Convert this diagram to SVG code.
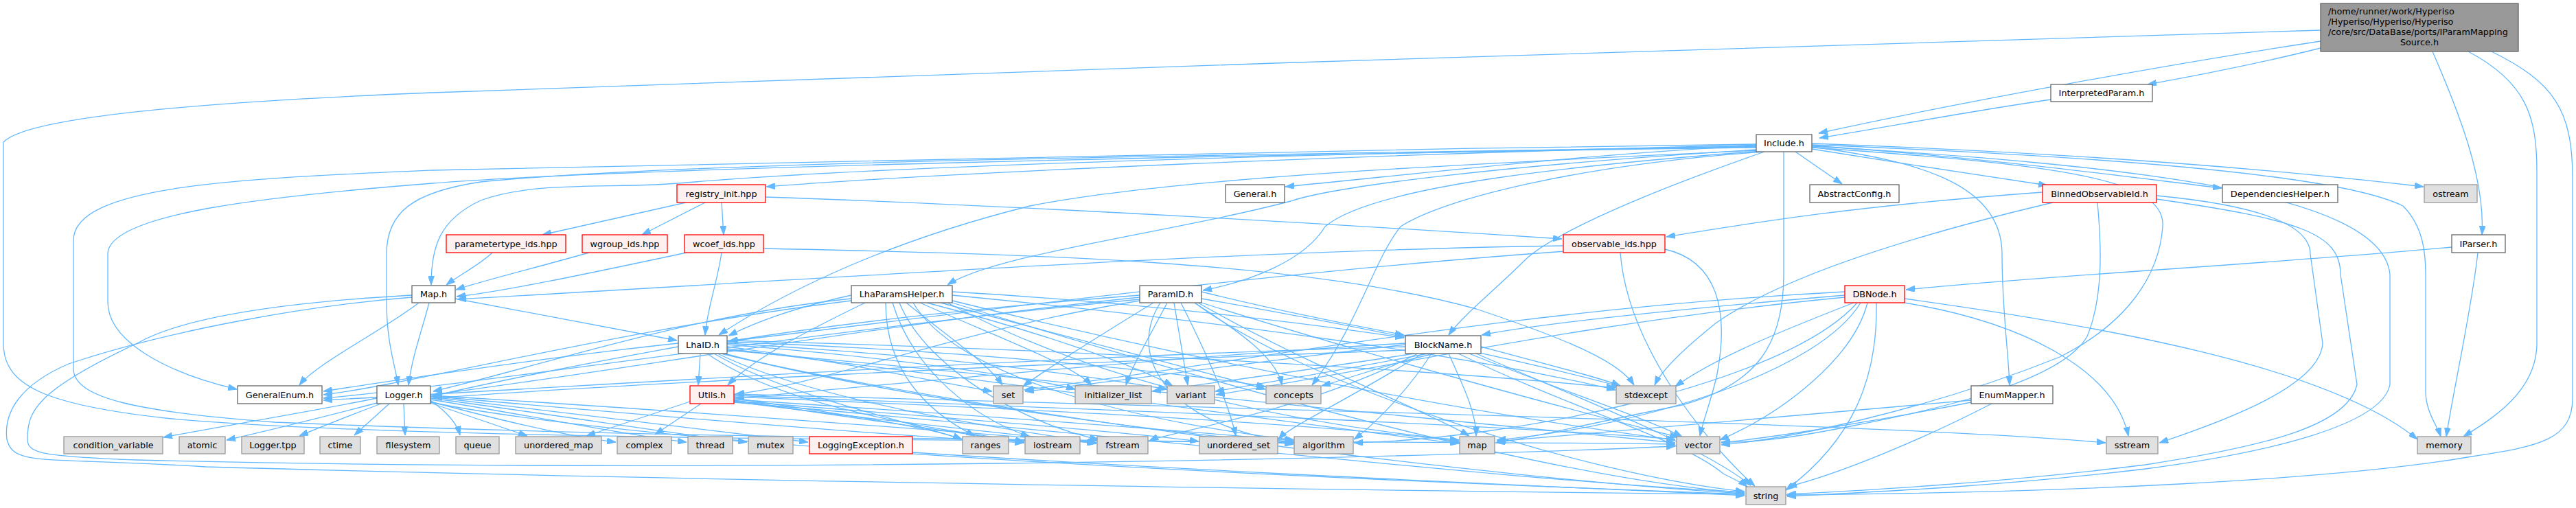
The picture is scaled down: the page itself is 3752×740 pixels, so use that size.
<svg xmlns="http://www.w3.org/2000/svg" width="3752" height="740" viewBox="0 0 3752 740">
<style>
.n rect{fill:#ffffff;stroke:#666666;stroke-width:1.3}
.r rect{fill:#999999;stroke:#666666;stroke-width:1.3}
.e rect{fill:#e0e0e0;stroke:#999999;stroke-width:1.3}
.t rect{fill:#fff0f0;stroke:#ff0000;stroke-width:1.3}
text{font-family:"DejaVu Sans","Liberation Sans",sans-serif;font-size:12.8px;fill:#000000;text-anchor:middle}
#edges path{fill:none;stroke:#63b8ff;stroke-width:1.3;marker-end:url(#ah)}
</style>
<defs>
<marker id="ah" markerWidth="13" markerHeight="9" refX="13" refY="4.5" orient="auto" markerUnits="userSpaceOnUse"><path d="M0,0 L13,4.5 L0,9 Z" fill="#63b8ff" stroke="#63b8ff"/></marker>
</defs>
<rect width="3752" height="740" fill="#ffffff"/>
<g id="edges">
<path d="M3380,60 C3150,95 2850,150 2649,194"/>
<path d="M3380,70 C3280,95 3200,110 3128,123"/>
<path d="M3543,75 C3580,160 3620,260 3615,342"/>
<path d="M3595,75 C3680,120 3695,170 3695,250 L3695,500 C3695,570 3630,610 3588,636"/>
<path d="M3629,75 C3720,120 3747,160 3747,260 L3747,580 C3747,640 3700,650 3600,665 C3400,700 3000,718 2602,721"/>
<path d="M3380,44 C2800,55 1400,110 630,135 C300,148 40,170 5,207 L5,500 C5,560 60,590 250,610 C700,650 2000,640 2440,647"/>
<path d="M2987,145 C2850,165 2750,185 2650,201"/>
<path d="M3571,360 C3300,385 3000,400 2776,422"/>
<path d="M3609,368 C3600,450 3575,560 3563,636"/>
<path d="M2615,221 L2683,268"/>
<path d="M2639,217 C2750,235 2880,255 2982,270"/>
<path d="M2639,212 C2900,230 3100,258 3236,274"/>
<path d="M2639,209 C3000,222 3300,245 3530,272"/>
<path d="M2639,214 C2800,235 2916,270 2916,370 C2916,450 2925,510 2927,561"/>
<path d="M2558,212 C2300,225 2050,255 1872,272"/>
<path d="M2558,211 C2000,225 1400,250 1116,272"/>
<path d="M2558,213 C2000,222 1300,240 1000,266 C900,276 780,262 700,292 C640,320 628,360 628,415"/>
<path d="M2558,214 C1800,225 1000,235 700,265 C600,280 563,310 563,370 L563,437 C563,500 575,530 580,561"/>
<path d="M2558,215 C1800,225 900,245 630,267 C400,285 157,310 157,370 L157,440 C157,500 250,545 345,567"/>
<path d="M2558,210 C1800,220 900,240 630,248 C350,260 107,270 107,350 L107,537 C107,580 200,600 400,615 C1000,640 1600,640 1884,645"/>
<path d="M2560,218 C2200,240 1950,270 1880,293 C1700,340 1450,370 1380,415"/>
<path d="M2565,220 C2300,240 2000,270 1930,330 C1900,380 1820,410 1752,423"/>
<path d="M2562,219 C2100,240 1700,260 1500,300 C1300,350 1150,420 1047,488"/>
<path d="M2570,221 C2400,280 2260,340 2220,380 C2180,420 2130,460 2110,488"/>
<path d="M2570,221 C2300,240 2100,290 2040,330 C2000,380 1980,470 1911,561"/>
<path d="M2598,221 L2598,400 C2598,500 2560,560 2450,590 C2300,620 2220,640 2179,645"/>
<path d="M2639,211 C3000,225 3400,250 3500,300 C3530,330 3533,370 3533,400 L3533,570 C3533,600 3550,620 3555,636"/>
<path d="M2639,215 C3000,240 3155,260 3150,330 C3145,400 3100,470 3000,520 C2800,600 2600,640 2507,648"/>
<path d="M2639,213 C3100,240 3470,280 3481,400 L3481,560 C3470,620 3300,660 3125,683 C2900,710 2700,718 2603,723"/>
<path d="M2975,280 C2700,300 2550,325 2427,345"/>
<path d="M2990,295 C2800,340 2600,400 2500,470 C2450,510 2420,540 2410,561"/>
<path d="M3055,295 C3060,350 3065,430 3040,490 C3000,560 2800,600 2700,620 C2600,640 2550,645 2507,644"/>
<path d="M3141,285 C3300,300 3365,330 3365,370 L3383,500 C3380,560 3250,610 3145,645"/>
<path d="M3141,290 C3350,320 3409,340 3409,400 L3433,560 C3420,620 3300,650 3125,677 C2900,705 2700,715 2603,720"/>
<path d="M1115,287 C1500,300 2000,330 2275,348"/>
<path d="M999,295 L790,342"/>
<path d="M1027,295 L935,342"/>
<path d="M1051,295 L1054,342"/>
<path d="M717,368 C700,385 670,400 650,415"/>
<path d="M858,368 C780,390 700,410 664,422"/>
<path d="M1000,368 C850,400 730,425 665,432"/>
<path d="M1051,368 C1045,410 1030,450 1027,488"/>
<path d="M1112,362 C1500,370 1900,380 2150,450 C2300,500 2360,530 2380,561"/>
<path d="M2277,358 C1800,365 1300,400 666,436"/>
<path d="M2280,366 C1800,400 1300,470 1061,497"/>
<path d="M2360,368 C2370,500 2480,640 2556,708"/>
<path d="M2425,363 C2500,380 2520,450 2500,550 C2490,590 2480,615 2476,635"/>
<path d="M610,441 C560,480 460,530 436,561"/>
<path d="M663,435 C800,460 900,480 986,496"/>
<path d="M625,441 C615,480 600,520 595,561"/>
<path d="M600,433 C450,445 250,480 100,530 C30,560 5,600 10,640 C20,680 60,665 300,680 C1000,700 2000,715 2541,720"/>
<path d="M600,430 C420,440 270,460 200,500 C50,570 40,600 40,640 C40,660 60,665 200,670 C1000,690 2000,670 2440,650"/>
<path d="M1240,430 C1150,450 1100,470 1061,489"/>
<path d="M1260,441 C1180,480 1100,520 1060,561"/>
<path d="M1240,435 C1000,460 800,530 631,570"/>
<path d="M1240,438 C900,480 600,560 471,575"/>
<path d="M1320,441 C1380,490 1440,530 1460,561"/>
<path d="M1340,441 C1450,490 1560,530 1590,561"/>
<path d="M1350,441 C1500,480 1650,530 1708,562"/>
<path d="M1370,441 C1550,490 1750,540 1843,567"/>
<path d="M1387,430 C1800,470 2150,520 2353,568"/>
<path d="M1387,425 C1650,440 1900,470 2045,492"/>
<path d="M1290,441 C1290,540 1350,600 1420,635"/>
<path d="M1300,441 C1330,540 1420,610 1500,636"/>
<path d="M1310,441 C1350,540 1500,620 1600,640"/>
<path d="M1330,441 C1400,560 1700,620 1885,641"/>
<path d="M1380,441 C1600,560 1900,620 2125,641"/>
<path d="M1387,438 C1800,540 2200,610 2440,641"/>
<path d="M1387,441 C1900,600 2300,700 2541,718"/>
<path d="M1680,441 C1600,490 1520,540 1490,563"/>
<path d="M1700,441 C1680,480 1650,530 1640,561"/>
<path d="M1710,441 L1730,561"/>
<path d="M1740,441 C1800,480 1860,520 1867,561"/>
<path d="M1720,441 C1760,520 1790,590 1800,635"/>
<path d="M1750,425 C1850,450 1950,470 2045,488"/>
<path d="M1750,435 C1950,470 2200,520 2360,563"/>
<path d="M1660,430 C1400,450 1200,475 1062,497"/>
<path d="M1660,438 C1400,480 1200,560 1071,574"/>
<path d="M1660,433 C1300,470 900,540 631,575"/>
<path d="M1660,436 C1200,480 700,560 471,580"/>
<path d="M1750,441 C2000,520 2300,600 2445,637"/>
<path d="M1745,441 C1900,530 2080,600 2140,635"/>
<path d="M1740,441 C1900,560 2300,690 2541,716"/>
<path d="M1690,441 C1640,520 1700,620 1885,645"/>
<path d="M2687,430 C2450,450 2250,470 2158,488"/>
<path d="M2700,441 C2600,480 2500,520 2440,563"/>
<path d="M2720,441 C2700,520 2600,600 2505,641"/>
<path d="M2710,441 C2650,540 2400,620 2180,641"/>
<path d="M2733,441 C2735,550 2700,640 2601,714"/>
<path d="M2774,435 C3100,480 3400,540 3521,640"/>
<path d="M2774,441 C2950,470 3080,540 3100,635"/>
<path d="M2687,425 C2200,450 1800,530 1492,568"/>
<path d="M2687,433 C2300,470 2000,540 1771,575"/>
<path d="M2705,441 C2600,560 2200,640 1972,645"/>
<path d="M1020,515 L1017,561"/>
<path d="M988,505 C850,530 700,560 631,577"/>
<path d="M988,500 C800,520 600,550 471,570"/>
<path d="M1059,505 C1250,530 1380,560 1445,570"/>
<path d="M1059,502 C1300,520 1500,550 1566,567"/>
<path d="M1059,500 C1400,520 1600,550 1700,567"/>
<path d="M1059,498 C1400,510 1700,540 1843,563"/>
<path d="M1059,496 C1600,510 2100,540 2353,565"/>
<path d="M1040,515 C1150,580 1350,620 1401,640"/>
<path d="M1030,515 C1150,600 1400,630 1492,643"/>
<path d="M1045,515 C1200,590 1500,630 1597,645"/>
<path d="M1059,510 C1600,560 2200,620 2440,645"/>
<path d="M1059,508 C1500,560 1900,620 2125,646"/>
<path d="M1050,515 C1400,600 2200,700 2541,719"/>
<path d="M1055,515 C1300,580 1700,630 1884,647"/>
<path d="M2047,505 C1500,520 900,560 471,583"/>
<path d="M2047,500 C1700,520 1300,560 1071,580"/>
<path d="M2047,510 C1500,530 900,560 631,580"/>
<path d="M2047,502 C1800,530 1600,560 1493,570"/>
<path d="M2060,515 C1900,540 1750,560 1678,570"/>
<path d="M2080,515 C1950,540 1830,560 1770,570"/>
<path d="M2090,515 C2020,530 1970,550 1925,562"/>
<path d="M2157,505 C2250,530 2330,550 2360,562"/>
<path d="M2110,515 C2130,560 2150,600 2150,635"/>
<path d="M2140,515 C2250,560 2400,610 2450,636"/>
<path d="M2085,515 C2050,570 2000,620 1972,640"/>
<path d="M2150,515 C2300,580 2480,650 2550,707"/>
<path d="M2065,515 C1900,600 1700,630 1674,642"/>
<path d="M2072,515 C1950,590 1880,620 1862,640"/>
<path d="M2124,515 C2300,600 2450,640 2510,690 C2530,700 2540,705 2545,709"/>
<path d="M1005,585 L854,635"/>
<path d="M1021,588 L954,633"/>
<path d="M1069,580 C1200,600 1350,620 1401,640"/>
<path d="M1069,583 C1250,610 1400,630 1492,645"/>
<path d="M1069,576 C1700,600 2200,620 2440,640"/>
<path d="M1069,578 C1600,600 1950,620 2125,643"/>
<path d="M1069,586 C1700,640 2200,700 2541,717"/>
<path d="M1069,582 C1500,610 1750,630 1884,642"/>
<path d="M1069,574 C2000,600 2800,620 3067,645"/>
<path d="M1069,584 C1400,610 1650,630 1746,643"/>
<path d="M1069,585 C1300,615 1500,635 1597,646"/>
<path d="M549,580 C450,600 300,625 238,637"/>
<path d="M549,587 C480,605 400,625 330,641"/>
<path d="M555,588 C510,605 460,625 436,635"/>
<path d="M567,588 L516,634"/>
<path d="M588,588 L590,634"/>
<path d="M627,583 C650,600 665,615 670,634"/>
<path d="M627,587 C680,605 740,625 768,635"/>
<path d="M627,585 C720,610 820,635 897,644"/>
<path d="M627,582 C800,610 920,635 1000,644"/>
<path d="M627,580 C850,610 1000,635 1088,644"/>
<path d="M627,578 C900,610 1100,635 1177,644"/>
<path d="M627,577 C1000,610 1300,635 1491,645"/>
<path d="M627,576 C1100,605 1400,630 1596,645"/>
<path d="M627,586 C1000,660 2000,700 2541,720"/>
<path d="M1329,659 C1800,690 2300,710 2541,722"/>
<path d="M2871,583 C2600,605 2350,630 2180,643"/>
<path d="M2871,586 C2750,610 2600,635 2507,645"/>
<path d="M2901,588 C2800,640 2680,690 2604,709"/>
</g>
<g id="node-root" class="r"><rect x="3380" y="5" width="288" height="70"/>
<text x="3391" y="21" style="text-anchor:start">/home/runner/work/Hyperiso</text>
<text x="3391" y="36" style="text-anchor:start">/Hyperiso/Hyperiso/Hyperiso</text>
<text x="3391" y="51" style="text-anchor:start">/core/src/DataBase/ports/IParamMapping</text>
<text x="3524" y="65.5">Source.h</text></g>
<g id="node-InterpretedParam" class="n"><rect x="2987" y="123" width="148" height="25"/><text x="3061" y="140">InterpretedParam.h</text></g>
<g id="node-Include" class="n"><rect x="2558" y="196" width="81" height="25"/><text x="2598.5" y="213">Include.h</text></g>
<g id="node-registry_init" class="t"><rect x="986" y="269" width="129" height="26"/><text x="1050.5" y="286.5">registry_init.hpp</text></g>
<g id="node-General" class="n"><rect x="1785" y="269" width="86" height="26"/><text x="1828" y="286.5">General.h</text></g>
<g id="node-AbstractConfig" class="n"><rect x="2636" y="269" width="130" height="26"/><text x="2701" y="286.5">AbstractConfig.h</text></g>
<g id="node-BinnedObservableId" class="t"><rect x="2975" y="269" width="166" height="26"/><text x="3058" y="286.5">BinnedObservableId.h</text></g>
<g id="node-DependenciesHelper" class="n"><rect x="3237" y="269" width="168" height="26"/><text x="3321" y="286.5">DependenciesHelper.h</text></g>
<g id="node-ostream" class="e"><rect x="3531" y="269" width="77" height="26"/><text x="3569.5" y="286.5">ostream</text></g>
<g id="node-parametertype_ids" class="t"><rect x="650" y="342" width="174" height="26"/><text x="737" y="359.5">parametertype_ids.hpp</text></g>
<g id="node-wgroup_ids" class="t"><rect x="848" y="342" width="124" height="26"/><text x="910" y="359.5">wgroup_ids.hpp</text></g>
<g id="node-wcoef_ids" class="t"><rect x="997" y="342" width="115" height="26"/><text x="1054.5" y="359.5">wcoef_ids.hpp</text></g>
<g id="node-observable_ids" class="t"><rect x="2277" y="342" width="148" height="26"/><text x="2351" y="359.5">observable_ids.hpp</text></g>
<g id="node-IParser" class="n"><rect x="3571" y="342" width="78" height="26"/><text x="3610" y="359.5">IParser.h</text></g>
<g id="node-Map" class="n"><rect x="600" y="416" width="63" height="25"/><text x="631.5" y="433">Map.h</text></g>
<g id="node-LhaParamsHelper" class="n"><rect x="1240" y="416" width="147" height="25"/><text x="1313.5" y="433">LhaParamsHelper.h</text></g>
<g id="node-ParamID" class="n"><rect x="1660" y="416" width="90" height="25"/><text x="1705" y="433">ParamID.h</text></g>
<g id="node-DBNode" class="t"><rect x="2687" y="416" width="87" height="25"/><text x="2730.5" y="433">DBNode.h</text></g>
<g id="node-LhaID" class="n"><rect x="988" y="489" width="71" height="26"/><text x="1023.5" y="506.5">LhaID.h</text></g>
<g id="node-BlockName" class="n"><rect x="2047" y="489" width="110" height="26"/><text x="2102" y="506.5">BlockName.h</text></g>
<g id="node-GeneralEnum" class="n"><rect x="346" y="562" width="123" height="26"/><text x="407.5" y="579.5">GeneralEnum.h</text></g>
<g id="node-Logger" class="n"><rect x="549" y="562" width="78" height="26"/><text x="588" y="579.5">Logger.h</text></g>
<g id="node-Utils" class="t"><rect x="1005" y="562" width="64" height="26"/><text x="1037" y="579.5">Utils.h</text></g>
<g id="node-set" class="e"><rect x="1447" y="562" width="43" height="26"/><text x="1468.5" y="579.5">set</text></g>
<g id="node-initializer_list" class="e"><rect x="1566" y="562" width="111" height="26"/><text x="1621.5" y="579.5">initializer_list</text></g>
<g id="node-variant" class="e"><rect x="1700" y="562" width="69" height="26"/><text x="1734.5" y="579.5">variant</text></g>
<g id="node-concepts" class="e"><rect x="1844" y="562" width="80" height="26"/><text x="1884" y="579.5">concepts</text></g>
<g id="node-stdexcept" class="e"><rect x="2354" y="562" width="87" height="26"/><text x="2397.5" y="579.5">stdexcept</text></g>
<g id="node-EnumMapper" class="n"><rect x="2871" y="562" width="119" height="26"/><text x="2930.5" y="579.5">EnumMapper.h</text></g>
<g id="node-condition_variable" class="e"><rect x="93" y="636" width="144" height="25"/><text x="165" y="653">condition_variable</text></g>
<g id="node-atomic" class="e"><rect x="261" y="636" width="67" height="25"/><text x="294.5" y="653">atomic</text></g>
<g id="node-Logger_tpp" class="e"><rect x="352" y="636" width="91" height="25"/><text x="397.5" y="653">Logger.tpp</text></g>
<g id="node-ctime" class="e"><rect x="466" y="636" width="59" height="25"/><text x="495.5" y="653">ctime</text></g>
<g id="node-filesystem" class="e"><rect x="549" y="636" width="91" height="25"/><text x="594.5" y="653">filesystem</text></g>
<g id="node-queue" class="e"><rect x="664" y="636" width="63" height="25"/><text x="695.5" y="653">queue</text></g>
<g id="node-unordered_map" class="e"><rect x="751" y="636" width="125" height="25"/><text x="813.5" y="653">unordered_map</text></g>
<g id="node-complex" class="e"><rect x="899" y="636" width="79" height="25"/><text x="938.5" y="653">complex</text></g>
<g id="node-thread" class="e"><rect x="1002" y="636" width="65" height="25"/><text x="1034.5" y="653">thread</text></g>
<g id="node-mutex" class="e"><rect x="1090" y="636" width="65" height="25"/><text x="1122.5" y="653">mutex</text></g>
<g id="node-LoggingException" class="t"><rect x="1179" y="636" width="150" height="25"/><text x="1254" y="653">LoggingException.h</text></g>
<g id="node-ranges" class="e"><rect x="1402" y="636" width="67" height="25"/><text x="1435.5" y="653">ranges</text></g>
<g id="node-iostream" class="e"><rect x="1493" y="636" width="80" height="25"/><text x="1533" y="653">iostream</text></g>
<g id="node-fstream" class="e"><rect x="1598" y="636" width="74" height="25"/><text x="1635" y="653">fstream</text></g>
<g id="node-unordered_set" class="e"><rect x="1747" y="636" width="114" height="25"/><text x="1804" y="653">unordered_set</text></g>
<g id="node-algorithm" class="e"><rect x="1885" y="636" width="86" height="25"/><text x="1928" y="653">algorithm</text></g>
<g id="node-map" class="e"><rect x="2126" y="636" width="51" height="25"/><text x="2151.5" y="653">map</text></g>
<g id="node-vector" class="e"><rect x="2442" y="636" width="63" height="25"/><text x="2473.5" y="653">vector</text></g>
<g id="node-sstream" class="e"><rect x="3068" y="636" width="75" height="25"/><text x="3105.5" y="653">sstream</text></g>
<g id="node-memory" class="e"><rect x="3521" y="636" width="78" height="25"/><text x="3560" y="653">memory</text></g>
<g id="node-string" class="e"><rect x="2543" y="709" width="58" height="26"/><text x="2572" y="726.5">string</text></g>
</svg>
